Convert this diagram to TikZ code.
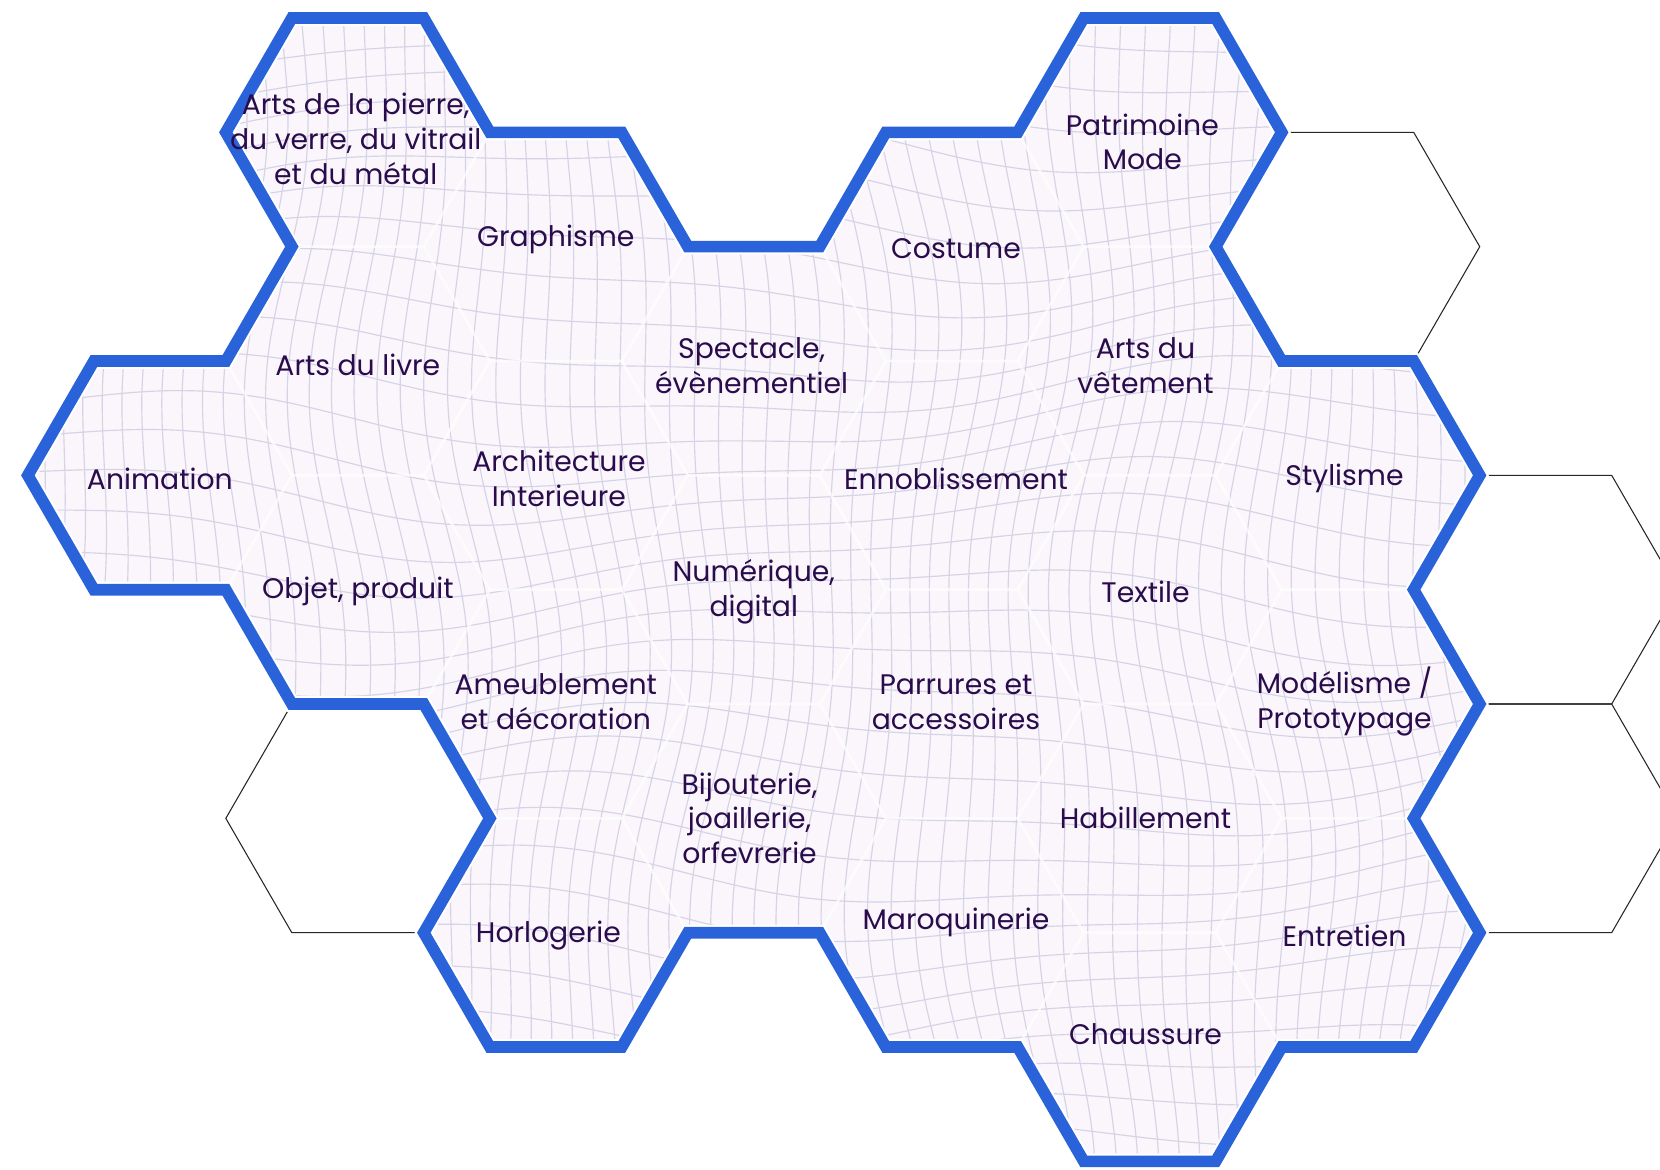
\documentclass[tikz,border=0pt]{standalone}
\usepackage{fontspec}
\setmainfont{Poppins}
\begin{document}
\begin{tikzpicture}[x=1pt,y=-1pt,
  lbl/.style={align=center,text=txtc,font=\fontsize{26.7}{33}\selectfont,inner sep=0pt},
  blueline/.style={draw=bluec,line width=11pt,line join=miter},
  whiteline/.style={draw=white,line width=15pt,line join=miter},
  emptyhex/.style={draw=black!85,line width=1pt},
  gridline/.style={draw=gridc,line width=1.1pt},
  cellline/.style={draw=white,line width=2.5pt,opacity=0.45}]
\definecolor{bluec}{HTML}{2962D9}
\definecolor{txtc}{HTML}{2A0C4C}
\definecolor{fillc}{HTML}{FAF6FB}
\definecolor{gridc}{HTML}{D6D3E7}
\newcommand\hexcell[3][]{\path[#1,shift={(#2,#3)}] (124.7,0) -- (62.35,-108) -- (-62.35,-108) -- (-124.7,0) -- (-62.35,108) -- (62.35,108) -- cycle;}
\useasboundingbox (0,0) rectangle (1568,1105);
\fill[white] (0,0) rectangle (1568,1105);
% empty hexes
\hexcell[emptyhex]{1273}{233}
\hexcell[emptyhex]{1460}{557}
\hexcell[emptyhex]{1460}{773}
\hexcell[emptyhex]{338}{773}
% outline
\def\outline{(275.7,17) -- (400.3,17) -- (462.7,125) -- (587.3,125) -- (649.7,233) -- (774.3,233) -- (836.7,125) -- (961.3,125) -- (1023.7,17) -- (1148.3,17) -- (1210.7,125) -- (1148.3,233) -- (1210.7,341) -- (1335.3,341) -- (1397.7,449) -- (1335.3,557) -- (1397.7,665) -- (1335.3,773) -- (1397.7,881) -- (1335.3,989) -- (1210.7,989) -- (1148.3,1097) -- (1023.7,1097) -- (961.3,989) -- (836.7,989) -- (774.3,881) -- (649.7,881) -- (587.3,989) -- (462.7,989) -- (400.3,881) -- (462.7,773) -- (400.3,665) -- (275.7,665) -- (213.3,557) -- (88.7,557) -- (26.3,449) -- (88.7,341) -- (213.3,341) -- (275.7,233) -- (213.3,125) -- cycle}
\fill[fillc] \outline;
\begin{scope}
\clip \outline;
\foreach \xo in {-40,-19,...,1610}{
  \draw[gridline] plot[variable=\t,domain=-20:1130,samples=45,smooth] ({\xo+16*sin(0.42*\t+0.35*\xo)+9*sin(0.9*\t-0.2*\xo)},{\t});
}
\foreach \yo in {-30,3,...,1140}{
  \draw[gridline] plot[variable=\t,domain=-20:1600,samples=55,smooth] ({\t},{\yo+26*sin(0.33*\t+0.6*\yo)+8*sin(0.8*\t+0.25*\yo)});
}
\foreach \cx/\cy in {151/449,338/125,338/341,338/557,525/233,525/449,525/665,525/881,712/341,712/557,712/773,899/233,899/449,899/665,899/881,1086/125,1086/341,1086/557,1086/773,1086/989,1273/449,1273/665,1273/881}{
  \hexcell[cellline]{\cx}{\cy}
}
\end{scope}
\draw[whiteline] \outline;
\draw[blueline] \outline;
% labels
\node[lbl] (pierre) at (336,131) {Arts de la pierre,\\du verre, du vitrail\\et du métal};
\node[lbl] (graph) at (525,226) {Graphisme};
\node[lbl] (livre) at (338,345) {Arts du livre};
\node[lbl] (anim) at (151,452) {Animation};
\node[lbl] (archi) at (528,452) {Architecture\\Interieure};
\node[lbl] (objet) at (338,559) {Objet, produit};
\node[lbl] (ameub) at (525,663) {Ameublement\\et décoration};
\node[lbl] (horlo) at (518,884) {Horlogerie};
\node[lbl] (spect) at (710,345) {Spectacle,\\évènementiel};
\node[lbl] (numer) at (712,559) {Numérique,\\digital};
\node[lbl] (bijou) at (708,773) {Bijouterie,\\joaillerie,\\orfevrerie};
\node[lbl] (costu) at (903,235) {Costume};
\node[lbl] (ennob) at (903,452) {Ennoblissement};
\node[lbl] (parru) at (903,663) {Parrures et\\accessoires};
\node[lbl] (maroq) at (903,871) {Maroquinerie};
\node[lbl] (patri) at (1079,134) {Patrimoine\\Mode};
\node[lbl] (vetem) at (1082,345) {Arts du\\vêtement};
\node[lbl] (texti) at (1082,559) {Textile};
\node[lbl] (habil) at (1082,773) {Habillement};
\node[lbl] (chaus) at (1082,977) {Chaussure};
\node[lbl] (styli) at (1270,452) {Stylisme};
\node[lbl] (model) at (1270,663) {Modélisme /\\Prototypage};
\node[lbl] (entre) at (1270,884) {Entretien};
\end{tikzpicture}
\end{document}
